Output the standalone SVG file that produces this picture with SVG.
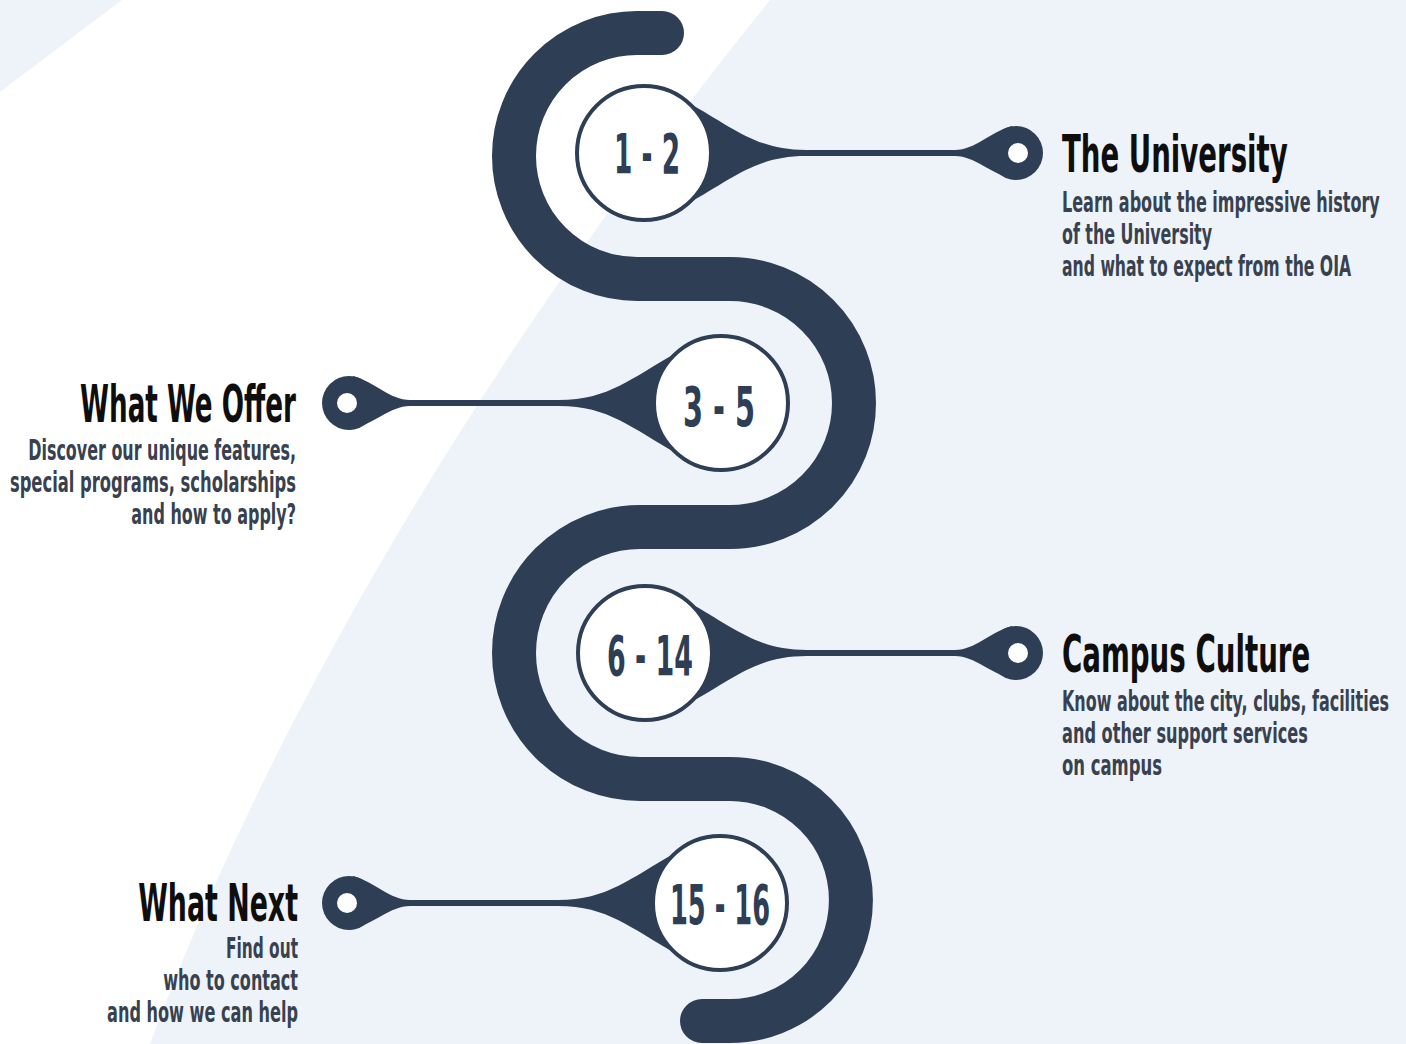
<svg xmlns="http://www.w3.org/2000/svg" width="1406" height="1044" viewBox="0 0 1406 1044">
  <defs>
    <style>
      .bg { fill: #eef2f9; }
      .bgw { fill: #ffffff; }
      .snake { fill: none; stroke: #2d3e55; stroke-width: 44; stroke-linecap: round; stroke-linejoin: round; }
      .conn { fill: #2d3e55; }
      .pin { fill: #2d3e55; }
      .hole { fill: #ffffff; }
      .ring { fill: #ffffff; stroke: #2d3e55; stroke-width: 4; }
      .num { font-family: "Liberation Sans Narrow", "DejaVu Sans Condensed", "Liberation Sans", sans-serif; font-weight: bold; font-size: 56px; fill: #2d3e55; text-anchor: middle; }
      .title { font-family: "Liberation Sans Narrow", "DejaVu Sans Condensed", "Liberation Sans", sans-serif; font-weight: bold; font-size: 51px; fill: #0e0e0e; }
      .sub { font-family: "Liberation Sans Narrow", "DejaVu Sans Condensed", "Liberation Sans", sans-serif; font-weight: bold; font-size: 29px; fill: #37414f; }
      .end { text-anchor: end; }
    </style>
  </defs>

  <g id="background">
    <rect class="bg" x="0" y="0" width="1406" height="1044"/>
    <path class="bgw" d="M 122,0 L 770,0 C 560,260 300,640 150,1044 L 0,1044 L 0,92 Z"/>
  </g>

  <g id="connectors">
    <path class="snake" d="M 662,33 L 637,33 A 123,123 0 0 0 637,279 L 730,279 A 124,124 0 0 1 730,527 L 640,527 A 126,126 0 0 0 640,779 L 730,779 A 121,121 0 0 1 730,1021 L 702,1021"/>
    <path class="conn" d="M 687,102 C 734,128 756,150 806,150 L 955,150 C 975,150 990,132 1012,126 L 1016,180 C 990,174 975,156 955,156 L 806,156 C 756,156 734,178 687,204 Z"/>
    <circle class="pin" cx="1016" cy="153" r="27"/>
    <circle class="hole" cx="1018" cy="153" r="10"/>
    <path class="conn" d="M 678,352 C 631,378 609,400 559,400 L 410,400 C 390,400 375,382 353,376 L 349,430 C 375,424 390,406 410,406 L 559,406 C 609,406 631,428 678,454 Z"/>
    <circle class="pin" cx="349" cy="403" r="27"/>
    <circle class="hole" cx="347" cy="403" r="10"/>
    <path class="conn" d="M 688,602 C 735,628 757,650 807,650 L 955,650 C 975,650 990,632 1012,626 L 1016,680 C 990,674 975,656 955,656 L 807,656 C 757,656 735,678 688,704 Z"/>
    <circle class="pin" cx="1016" cy="653" r="27"/>
    <circle class="hole" cx="1018" cy="653" r="10"/>
    <path class="conn" d="M 677,852 C 630,878 608,900 558,900 L 410,900 C 390,900 375,882 353,876 L 349,930 C 375,924 390,906 410,906 L 558,906 C 608,906 630,928 677,954 Z"/>
    <circle class="pin" cx="349" cy="903" r="27"/>
    <circle class="hole" cx="347" cy="903" r="10"/>
  </g>

  <g id="node-university">
    <circle class="ring" cx="644" cy="153" r="67"/>
    <text class="num" x="647" y="173" textLength="66" lengthAdjust="spacingAndGlyphs">1 - 2</text>
    <g transform="translate(1062 0) scale(0.61 1)">
      <text class="title" x="0" y="172" textLength="370" lengthAdjust="spacingAndGlyphs">The University</text>
      <text class="sub" x="0" y="212" textLength="521" lengthAdjust="spacingAndGlyphs">Learn about the impressive history</text>
      <text class="sub" x="0" y="244" textLength="246" lengthAdjust="spacingAndGlyphs">of the University</text>
      <text class="sub" x="0" y="276" textLength="474" lengthAdjust="spacingAndGlyphs">and what to expect from the OIA</text>
    </g>
  </g>

  <g id="node-offer">
    <circle class="ring" cx="721" cy="403" r="67"/>
    <text class="num" x="719" y="426" textLength="72" lengthAdjust="spacingAndGlyphs">3 - 5</text>
    <g transform="translate(296 0) scale(0.61 1)">
      <text class="title end" x="0" y="422" textLength="354" lengthAdjust="spacingAndGlyphs">What We Offer</text>
      <text class="sub end" x="0" y="460" textLength="439" lengthAdjust="spacingAndGlyphs">Discover our unique features,</text>
      <text class="sub end" x="0" y="492" textLength="469" lengthAdjust="spacingAndGlyphs">special programs, scholarships</text>
      <text class="sub end" x="0" y="524" textLength="270" lengthAdjust="spacingAndGlyphs">and how to apply?</text>
    </g>
  </g>

  <g id="node-campus">
    <circle class="ring" cx="645" cy="653" r="67"/>
    <text class="num" x="650" y="675" textLength="86" lengthAdjust="spacingAndGlyphs">6 - 14</text>
    <g transform="translate(1062 0) scale(0.61 1)">
      <text class="title" x="0" y="672" textLength="407" lengthAdjust="spacingAndGlyphs">Campus Culture</text>
      <text class="sub" x="0" y="711" textLength="536" lengthAdjust="spacingAndGlyphs">Know about the city, clubs, facilities</text>
      <text class="sub" x="0" y="743" textLength="403" lengthAdjust="spacingAndGlyphs">and other support services</text>
      <text class="sub" x="0" y="775" textLength="164" lengthAdjust="spacingAndGlyphs">on campus</text>
    </g>
  </g>

  <g id="node-next">
    <circle class="ring" cx="720" cy="903" r="67"/>
    <text class="num" x="720" y="924" textLength="100" lengthAdjust="spacingAndGlyphs">15 - 16</text>
    <g transform="translate(298 0) scale(0.61 1)">
      <text class="title end" x="0" y="921" textLength="262" lengthAdjust="spacingAndGlyphs">What Next</text>
      <text class="sub end" x="0" y="958" textLength="118" lengthAdjust="spacingAndGlyphs">Find out</text>
      <text class="sub end" x="0" y="990" textLength="221" lengthAdjust="spacingAndGlyphs">who to contact</text>
      <text class="sub end" x="0" y="1022" textLength="313" lengthAdjust="spacingAndGlyphs">and how we can help</text>
    </g>
  </g>
</svg>
